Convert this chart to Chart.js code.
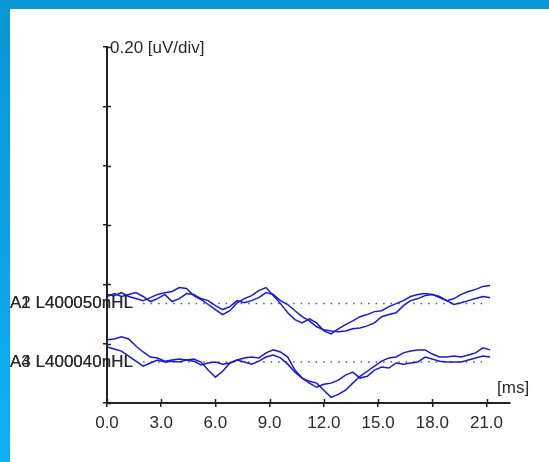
<!DOCTYPE html>
<html lang="en">
<head>
<meta charset="UTF-8">
<title>ABR traces</title>
<script src="https://cdn.jsdelivr.net/npm/chart.js"></script>
<style>
  html, body { margin: 0; padding: 0; }
  body {
    width: 549px; height: 462px; overflow: hidden; position: relative;
    background: linear-gradient(180deg, #0a97d5 0%, #0ba3e6 55%, #10b0f6 100%);
  }
  #panel { position: absolute; left: 10px; top: 9px; right: 0; bottom: 0; background: #fff; }
  #wrap { position: absolute; left: 0; top: 0; width: 549px; height: 462px; }
</style>
</head>
<body>
<div id="panel"></div>
<div id="wrap"><canvas id="abr-chart" width="549" height="462"></canvas></div>
<script>
// sample times (ms)
const timesMs = [0.0, 0.4, 0.8, 1.2, 1.6, 2.0, 2.4, 2.8, 3.2, 3.6,
                 4.0, 4.4, 4.8, 5.2, 5.6, 6.0, 6.4, 6.8, 7.2, 7.6,
                 8.0, 8.4, 8.8, 9.2, 9.6, 10.0, 10.4, 10.8, 11.2, 11.6,
                 12.0, 12.4, 12.8, 13.2, 13.6, 14.0, 14.4, 14.8, 15.2, 15.6,
                 16.0, 16.4, 16.8, 17.2, 17.6, 18.0, 18.4, 18.8, 19.2, 19.6,
                 20.0, 20.4, 20.8, 21.2];

// amplitudes in uV, relative to each trace's baseline
const traceA1 = [.031, .027, .037, .024, .017, .010, .020, .031, .037, .041,
                 .054, .051, .027, .014, -.003, -.020, -.037, -.024, .003, .017,
                 .027, .044, .054, .027, 0, -.031, -.054, -.065, -.051, -.065,
                 -.092, -.102, -.085, -.071, -.058, -.044, -.037, -.027, -.024, -.010,
                 0, .010, .024, .031, .034, .031, .020, .010, .017, .031,
                 .041, .048, .058, .061];
const traceA2 = [.024, .034, .024, .031, .037, .024, .007, .017, .031, .007,
                 .017, .034, .031, .017, .010, -.007, -.020, -.010, .010, .003,
                 .010, .020, .037, .031, .010, -.003, -.024, -.044, -.058, -.078,
                 -.088, -.092, -.095, -.092, -.085, -.082, -.075, -.065, -.044, -.037,
                 -.031, -.007, .010, .017, .027, .031, .024, .010, -.003, .003,
                 .010, .017, .024, .020];
const traceA3 = [.075, .078, .085, .078, .054, .034, .017, .014, .003, .007,
                 .010, .007, .010, 0, -.027, -.051, -.031, -.003, .007, .014,
                 .017, .014, .031, .041, .034, .017, -.027, -.054, -.065, -.071,
                 -.095, -.119, -.109, -.095, -.071, -.048, -.031, -.014, .003, .014,
                 .017, .031, .037, .041, .041, .027, .017, .017, .020, .017,
                 .024, .031, .048, .041];
const traceA4 = [.051, .044, .037, .020, .003, -.014, -.003, .007, 0, .003,
                 0, .007, .003, -.010, -.003, 0, -.007, -.003, .007, 0,
                 -.007, .003, .017, .024, .014, -.007, -.034, -.054, -.071, -.085,
                 -.075, -.071, -.061, -.044, -.034, -.054, -.048, -.027, -.017, -.020,
                 -.003, -.007, -.003, 0, .017, .010, .003, 0, 0, 0,
                 .007, .014, .020, .017];

const traceLabels = ['A1 L400050nHL', 'A2 L400050nHL', 'A3 L400040nHL', 'A4 L400040nHL'];
const baselineUv = [0.335, 0.335, 0.138, 0.138];
const baselineSpanMs = [2.0, 21.0];

const xTickStep = 3;      // ms
const xMaxMs = 22.3;
const yDivUv = 0.2;
const yMaxUv = 1.2;
const yUnitLabel = '0.20 [uV/div]';
const xUnitLabel = '[ms]';

const FONT = '17px "Liberation Sans", Arial, sans-serif';
const TEXT_COLOR = '#2a2a2a';
const AXIS_COLOR = '#222';
const TRACE_COLOR = '#1818dc';

const traces = [traceA1, traceA2, traceA3, traceA4];

const datasets = traces.map((tr, k) => ({
    label: traceLabels[k],
    data: timesMs.map((t, i) => ({ x: t, y: baselineUv[k] + tr[i] })),
    borderColor: TRACE_COLOR,
    borderWidth: 1.5,
    pointRadius: 0,
    tension: 0,
    fill: false
}));

// dotted baselines, one per pair
[0, 2].forEach(k => {
    datasets.push({
        label: 'baseline ' + k,
        data: baselineSpanMs.map(t => ({ x: t, y: baselineUv[k] })),
        borderColor: '#555',
        borderWidth: 1.5,
        borderDash: [1.5, 6],
        pointRadius: 0,
        fill: false
    });
});

const overlayPlugin = {
    id: 'overlay',
    afterDraw(chart) {
        const ctx = chart.ctx;
        const xs = chart.scales.x;
        const ys = chart.scales.y;
        const area = chart.chartArea;
        ctx.save();
        // inner halves of the crossing tick marks
        ctx.strokeStyle = AXIS_COLOR;
        ctx.lineWidth = 1.5;
        ctx.beginPath();
        xs.ticks.forEach(t => {
            const px = Math.round(xs.getPixelForValue(t.value)) + 0.5;
            ctx.moveTo(px, area.bottom);
            ctx.lineTo(px, area.bottom - 4);
        });
        ys.ticks.forEach(t => {
            const py = Math.round(ys.getPixelForValue(t.value)) + 0.5;
            ctx.moveTo(area.left, py);
            ctx.lineTo(area.left + 4, py);
        });
        ctx.stroke();

        ctx.font = FONT;
        ctx.fillStyle = TEXT_COLOR;
        ctx.textBaseline = 'middle';
        ctx.textAlign = 'left';
        ctx.fillText(yUnitLabel, area.left + 3, ys.getPixelForValue(yMaxUv) + 1);
        ctx.fillText(xUnitLabel, area.right - 13, area.bottom - 15);

        traceLabels.forEach((lab, k) => {
            ctx.fillText(lab, 10, ys.getPixelForValue(baselineUv[k]));
        });
        ctx.restore();
    }
};

new Chart(document.getElementById('abr-chart').getContext('2d'), {
    type: 'line',
    data: { datasets },
    options: {
        responsive: false,
        animation: false,
        events: [],
        layout: { padding: { top: 47, right: 39, left: 0, bottom: 0 } },
        plugins: {
            legend: { display: false },
            tooltip: { enabled: false }
        },
        scales: {
            x: {
                type: 'linear',
                min: 0,
                max: xMaxMs,
                afterFit: s => { s.height = 59; },
                border: { display: true, color: AXIS_COLOR, width: 2 },
                grid: { drawOnChartArea: false, drawTicks: true, tickLength: 4, color: AXIS_COLOR, lineWidth: 1.5 },
                ticks: {
                    stepSize: xTickStep,
                    includeBounds: false,
                    autoSkip: false,
                    maxRotation: 0,
                    padding: 6,
                    color: TEXT_COLOR,
                    font: { family: '"Liberation Sans", Arial, sans-serif', size: 17 },
                    callback: v => Number(v).toFixed(1)
                }
            },
            y: {
                type: 'linear',
                min: 0,
                max: yMaxUv,
                afterFit: s => { s.width = 107; },
                border: { display: true, color: AXIS_COLOR, width: 2 },
                grid: { drawOnChartArea: false, drawTicks: true, tickLength: 4, color: AXIS_COLOR, lineWidth: 1.5 },
                ticks: { stepSize: yDivUv, display: false }
            }
        }
    },
    plugins: [overlayPlugin]
});
</script>
</body>
</html>
